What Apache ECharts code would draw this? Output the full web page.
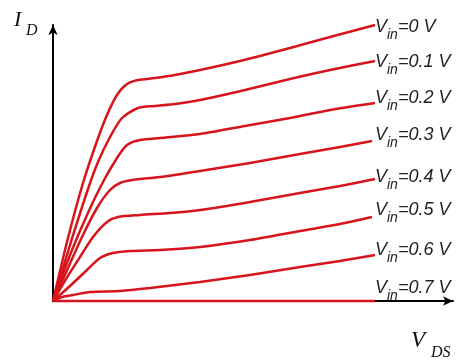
<!DOCTYPE html>
<html>
<head>
<meta charset="utf-8">
<script src="https://cdn.jsdelivr.net/npm/echarts@6/dist/echarts.min.js"></script>
<style>
  html, body { margin: 0; padding: 0; background: #fff; }
  #chart { width: 456px; height: 361px; }
</style>
</head>
<body>
<div id="chart"></div>
<script>
// Output characteristics: drain current I_D versus V_DS for several input voltages
const vinLevels = ['0', '0.1', '0.2', '0.3', '0.4', '0.5', '0.6', '0.7'];

// [V_DS, I_D] points for each curve (arbitrary units)
const curveVin00 = [[0,0],[0.15,0.63],[0.30,1.18],[0.44,1.60],[0.54,1.86],[0.64,2.06],[0.74,2.17],[0.85,2.21],[1.02,2.23],[1.22,2.26],[1.47,2.31],[1.87,2.40],[2.37,2.53],[2.77,2.64],[3.22,2.76]];
const curveVin01 = [[0,0],[0.17,0.56],[0.35,1.12],[0.45,1.39],[0.57,1.64],[0.69,1.83],[0.85,1.93],[1.02,1.95],[1.22,1.97],[1.47,2.01],[1.92,2.11],[2.37,2.22],[2.77,2.31],[3.22,2.40]];
const curveVin02 = [[0,0],[0.17,0.46],[0.34,0.86],[0.50,1.19],[0.64,1.43],[0.74,1.56],[0.87,1.61],[1.07,1.63],[1.47,1.67],[1.92,1.75],[2.37,1.83],[2.77,1.91],[3.22,1.98]];
const curveVin03 = [[0,0],[0.15,0.33],[0.29,0.64],[0.44,0.93],[0.57,1.11],[0.67,1.18],[0.79,1.21],[1.07,1.24],[1.47,1.30],[1.97,1.38],[2.47,1.47],[2.87,1.54],[3.19,1.60]];
const curveVin04 = [[0,0],[0.13,0.22],[0.27,0.44],[0.40,0.64],[0.54,0.79],[0.65,0.84],[0.87,0.86],[1.17,0.88],[1.47,0.91],[1.97,0.99],[2.47,1.08],[2.87,1.15],[3.22,1.22]];
const curveVin05 = [[0,0],[0.17,0.15],[0.34,0.31],[0.47,0.43],[0.60,0.48],[0.77,0.50],[1.07,0.51],[1.47,0.54],[1.97,0.61],[2.47,0.70],[2.87,0.77],[3.19,0.84]];
const curveVin06 = [[0,0],[0.09,0.04],[0.20,0.06],[0.37,0.09],[0.67,0.10],[0.97,0.13],[1.47,0.19],[1.97,0.26],[2.47,0.34],[2.87,0.40],[3.22,0.46]];
const curveVin07 = [[0,0],[3.22,0]];

const curves = [curveVin00, curveVin01, curveVin02, curveVin03, curveVin04, curveVin05, curveVin06, curveVin07];

// Pixel nudges [dx, dy] that line the end labels up in one column above each curve end
const labelNudge = [[0, 2], [0, 1], [0, -5], [3, -6], [0, -2], [3, -7], [0, -5], [0, -13]];

const RED = '#d7141c';
const LABEL_FONT = '"Liberation Sans", Arial, sans-serif';
const AXIS_FONT = '"Liberation Serif", "Times New Roman", serif';

const series = curves.map((pts, i) => ({
  name: 'Vin=' + vinLevels[i] + ' V',
  type: 'line',
  data: pts,
  smooth: i === 7 ? false : 0.25,
  showSymbol: false,
  symbol: 'none',
  clip: false,
  z: 3,
  lineStyle: { color: RED, width: 2.5 },
  endLabel: {
    show: true,
    distance: 0,
    offset: labelNudge[i],
    formatter: '{v|V}{s|in}{v|=' + vinLevels[i] + ' V}',
    rich: {
      v: {
        fontFamily: LABEL_FONT,
        fontStyle: 'italic',
        fontSize: 18,
        lineHeight: 18,
        color: '#222',
        verticalAlign: 'top'
      },
      s: {
        fontFamily: LABEL_FONT,
        fontStyle: 'italic',
        fontSize: 14,
        lineHeight: 14,
        color: '#222',
        verticalAlign: 'top',
        padding: [10, 0, 0, 0]
      }
    }
  }
}));

const chart = echarts.init(document.getElementById('chart'), null, { renderer: 'canvas' });

chart.setOption({
  animation: false,
  backgroundColor: '#fff',
  grid: { left: 53, right: 3, top: 25, bottom: 60 },
  xAxis: {
    type: 'value',
    min: 0,
    max: 4,
    axisLine: {
      show: true,
      onZero: false,
      symbol: ['none', 'arrow'],
      symbolSize: [7, 10],
      lineStyle: { color: '#000', width: 2 }
    },
    axisTick: { show: false },
    axisLabel: { show: false },
    splitLine: { show: false }
  },
  yAxis: {
    type: 'value',
    min: 0,
    max: 2.76,
    axisLine: {
      show: true,
      onZero: false,
      symbol: ['none', 'arrow'],
      symbolSize: [7, 10],
      lineStyle: { color: '#000', width: 2 }
    },
    axisTick: { show: false },
    axisLabel: { show: false },
    splitLine: { show: false }
  },
  graphic: [
    {
      type: 'text', x: 14, y: 20,
      style: { text: 'I', font: 'italic 22px ' + AXIS_FONT, fill: '#111', verticalAlign: 'middle' }
    },
    {
      type: 'text', x: 26, y: 31,
      style: { text: 'D', font: 'italic 16px ' + AXIS_FONT, fill: '#111', verticalAlign: 'middle' }
    },
    {
      type: 'text', x: 411, y: 341,
      style: { text: 'V', font: 'italic 23px ' + AXIS_FONT, fill: '#111', verticalAlign: 'middle' }
    },
    {
      type: 'text', x: 431, y: 353,
      style: { text: 'DS', font: 'italic 16px ' + AXIS_FONT, fill: '#111', verticalAlign: 'middle' }
    }
  ],
  series: series
});
</script>
</body>
</html>
